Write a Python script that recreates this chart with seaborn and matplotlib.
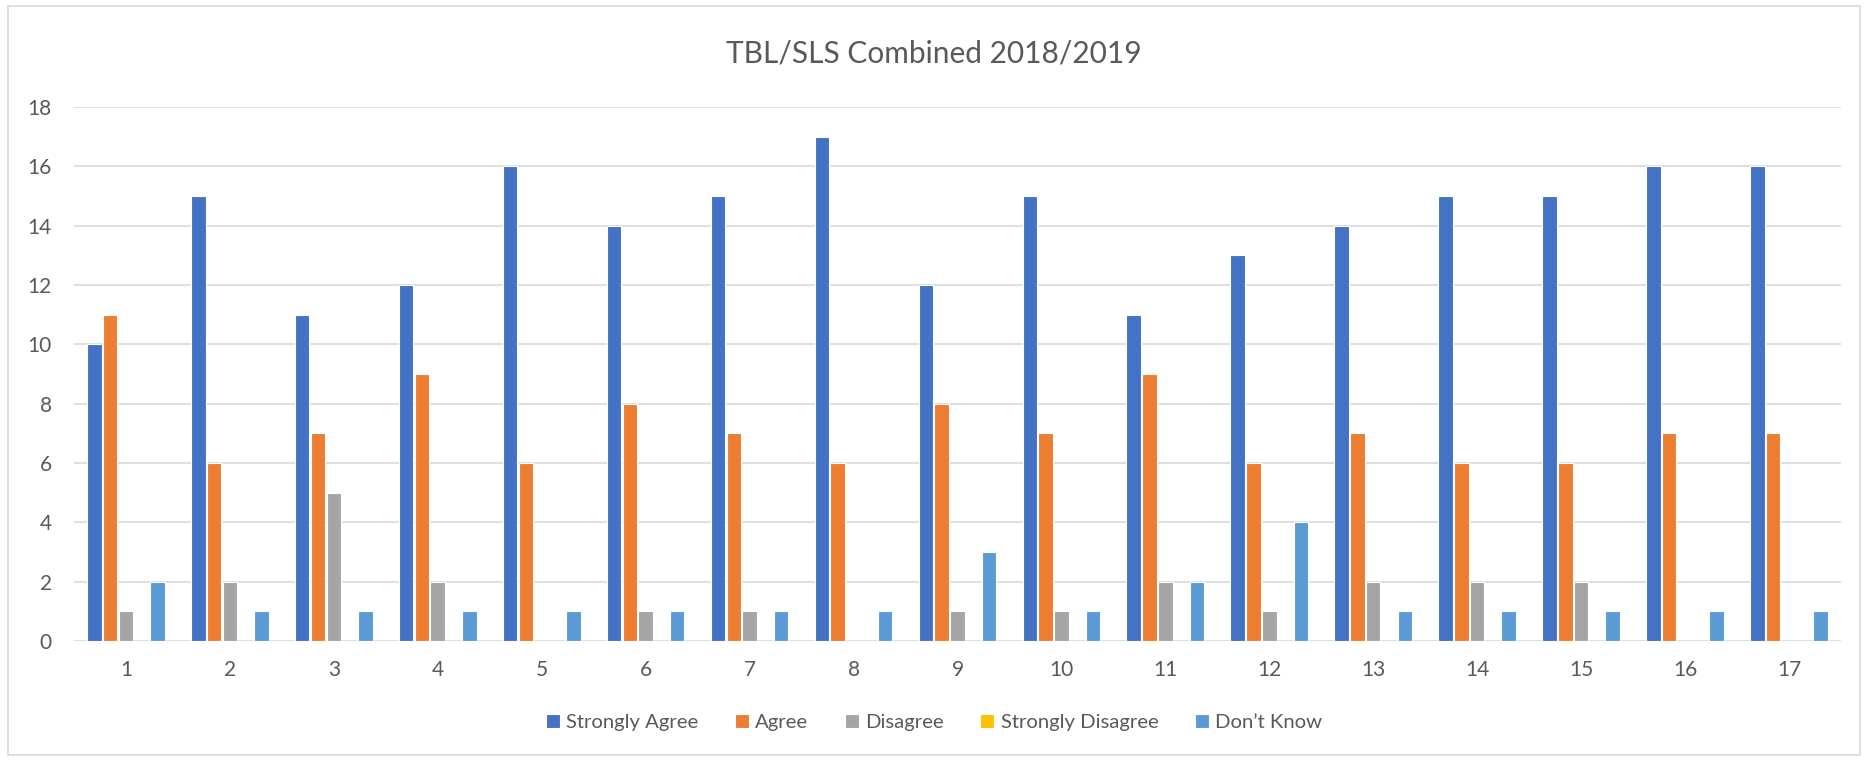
import pandas as pd
import seaborn as sns
import matplotlib.pyplot as plt
from matplotlib.patches import Rectangle


# chart values
questions = [str(i) for i in range(1, 18)]
strongly_agree = [10, 15, 11, 12, 16, 14, 15, 17, 12, 15, 11, 13, 14, 15, 15, 16, 16]
agree = [11, 6, 7, 9, 6, 8, 7, 6, 8, 7, 9, 6, 7, 6, 6, 7, 7]
disagree = [1, 2, 5, 2, 0, 1, 1, 0, 1, 1, 2, 1, 2, 2, 2, 0, 0]
strongly_disagree = [0] * 17
dont_know = [2, 1, 1, 1, 1, 1, 1, 1, 3, 1, 2, 4, 1, 1, 1, 1, 1]

series_names = ['Strongly Agree', 'Agree', 'Disagree', 'Strongly Disagree', 'Don\u2019t Know']
colors = ['#4472C4', '#ED7D31', '#A5A5A5', '#FFC000', '#5B9BD5']

# long format for seaborn
df = pd.DataFrame({'question': questions,
                   series_names[0]: strongly_agree,
                   series_names[1]: agree,
                   series_names[2]: disagree,
                   series_names[3]: strongly_disagree,
                   series_names[4]: dont_know})
long_df = df.melt(id_vars='question', var_name='response', value_name='count')

sns.set_style('white')
plt.rcParams['font.family'] = ['Lato', 'DejaVu Sans']
text_color = '#595959'

fig = plt.figure(figsize=(18.68, 7.6), dpi=100)
ax = fig.add_axes([0.0396, 0.1566, 0.9459, 0.7024])

sns.barplot(data=long_df, x='question', y='count', hue='response',
            hue_order=series_names, palette=colors, width=0.76, gap=0.08,
            order=questions, ax=ax, legend=True, saturation=1,
            edgecolor='white', linewidth=0.8)

ax.set_xlim(-0.5, 16.5)
ax.set_ylim(0, 18)
ax.set_yticks(range(0, 19, 2))
ax.set_xlabel('')
ax.set_ylabel('')
ax.grid(axis='y', color='#D9D9D9', linewidth=1.2)
ax.set_axisbelow(True)
for s in ax.spines.values():
    s.set_visible(False)
ax.tick_params(axis='both', length=0, labelsize=15, colors=text_color)
ax.tick_params(axis='x', pad=14)
ax.tick_params(axis='y', pad=16)

fig.text(0.5, 0.929, 'TBL/SLS Combined 2018/2019', ha='center', va='center',
         fontsize=21.5, color=text_color)

handles, labels = ax.get_legend_handles_labels()
ax.legend(handles, labels, loc='center', bbox_to_anchor=(0.5, 0.049),
          bbox_transform=fig.transFigure, ncol=5, frameon=False,
          fontsize=14.6, labelcolor=text_color, handlelength=0.7,
          handleheight=0.7, handletextpad=0.3, columnspacing=1.8)

# light chart border like the office chart frame
fig.patches.append(Rectangle((0.0045, 0.006), 0.991, 0.986, transform=fig.transFigure,
                             fill=False, edgecolor='#D9D9D9', linewidth=1.2))

plt.savefig('out.png', dpi=100)
